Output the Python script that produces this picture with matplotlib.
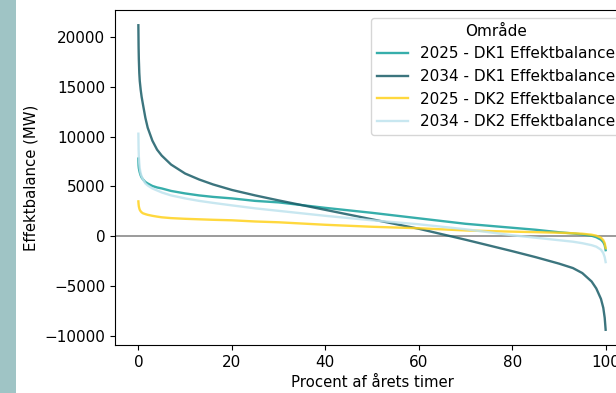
import matplotlib
matplotlib.use("Agg")
import matplotlib.pyplot as plt
from matplotlib.patches import Rectangle

pct = [0, 0.05, 0.1, 0.2, 0.3, 0.5, 0.7, 1, 1.5, 2, 3, 4, 5, 7, 10, 13, 16, 20, 25, 30,
       40, 50, 60, 70, 80, 85, 90, 93, 95, 97, 98, 99, 99.5, 99.8, 100]

dk1_2025 = [7800, 7100, 6850, 6600, 6400, 6100, 5900, 5700, 5450, 5300, 5050, 4900,
            4800, 4550, 4300, 4100, 3950, 3800, 3550, 3400, 2850, 2350, 1800, 1250, 850,
            650, 400, 280, 180, 50, -100, -350, -600, -900, -1400]
dk1_2034 = [21200, 19000, 17800, 16400, 15600, 14700, 14000, 13200, 11900, 10900, 9600,
            8700, 8100, 7200, 6300, 5700, 5200, 4650, 4100, 3600, 2650, 1700, 750, -350,
            -1500, -2100, -2750, -3200, -3700, -4550, -5250, -6300, -7200, -8200, -9400]
dk2_2025 = [3500, 3200, 3000, 2800, 2650, 2500, 2400, 2300, 2220, 2150, 2050, 1970,
            1900, 1820, 1750, 1700, 1650, 1600, 1480, 1400, 1150, 950, 800, 580, 460, 410,
            350, 300, 250, 150, 50, -150, -400, -700, -1200]
dk2_2034 = [10300, 8800, 8000, 7300, 6800, 6300, 6000, 5700, 5300, 5100, 4800, 4600,
            4400, 4100, 3800, 3550, 3350, 3100, 2800, 2550, 2050, 1600, 1200, 700, 100,
            -150, -400, -550, -700, -900, -1050, -1350, -1700, -2100, -2600]

labels = ["2025 - DK1 Effektbalance", "2034 - DK1 Effektbalance",
          "2025 - DK2 Effektbalance", "2034 - DK2 Effektbalance"]
series = [dk1_2025, dk1_2034, dk2_2025, dk2_2034]
colors = ["#14a09c", "#1a5d68", "#ffd21c", "#bfe3ee"]

plt.rcParams["font.family"] = ["DejaVu Sans"]
plt.rcParams["font.size"] = 11

fig = plt.figure(figsize=(6.16, 3.93), dpi=100)
fig.patches.append(Rectangle((0, 0), 16 / 616, 1, transform=fig.transFigure,
                             facecolor="#9fc4c5", edgecolor="none", zorder=-1))
ax = fig.add_axes([115 / 616, 1 - 345 / 393, (629 - 115) / 616, (345 - 10) / 393])

for vals, lab, col in zip(series, labels, colors):
    ax.plot(pct, vals, color=col, lw=1.7, label=lab, alpha=0.85)

ax.axhline(0, color="#808080", lw=1.1, zorder=1)
ax.set_xticks([0, 20, 40, 60, 80, 100])
ax.set_yticks([-10000, -5000, 0, 5000, 10000, 15000, 20000])
ax.tick_params(labelsize=11)
ax.set_xlabel("Procent af årets timer", fontsize=10.7)
ax.set_ylabel("Effektbalance (MW)", fontsize=10.7)
ax.legend(title="Område", loc="upper right", fontsize=11, title_fontsize=11)

fig.savefig("out.png", dpi=100)
